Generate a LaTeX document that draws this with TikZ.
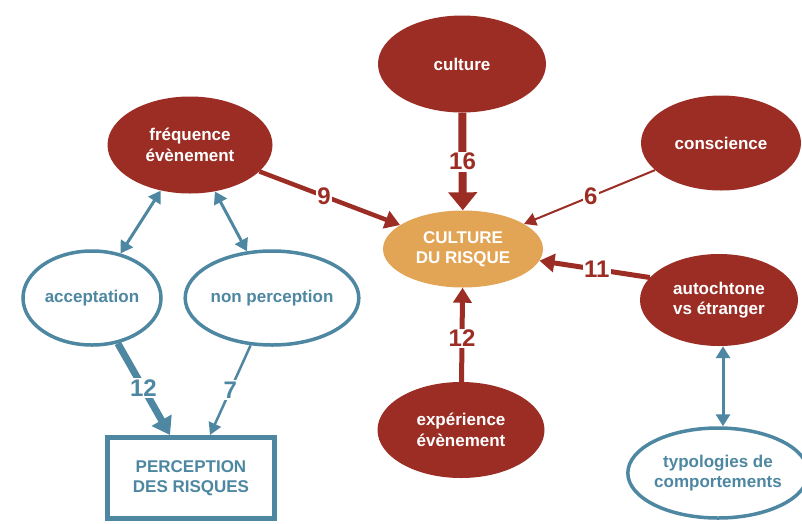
\documentclass[tikz,border=0pt]{standalone}
\usepackage{fontspec}
\setmainfont{Liberation Sans}
\usetikzlibrary{shapes.geometric,arrows.meta}
\definecolor{dred}{HTML}{9C2D24}
\definecolor{ora}{HTML}{E2A556}
\definecolor{blu}{HTML}{4E87A1}
\begin{document}
\begin{tikzpicture}[x=1pt,y=-1pt,
  font=\fontsize{17}{20.5}\selectfont\bfseries,
  redn/.style={ellipse, fill=dred, text=white, inner sep=0pt, align=center},
  bluen/.style={ellipse, draw=blu, line width=3.5pt, fill=white, text=blu, inner sep=0pt, align=center},
  num/.style={fill=white, inner sep=1.5pt, font=\fontsize{24}{24}\selectfont\bfseries},
  rnum/.style={num, text=dred},
  bnum/.style={num, text=blu},
  rline/.style={draw=dred},
  bline/.style={draw=blu},
  dbl/.style={bline, line width=3pt, {Triangle[length=12pt,width=14pt]}-{Triangle[length=12pt,width=14pt]}}
]
\useasboundingbox (0,0) rectangle (802,523);
\fill[white] (0,0) rectangle (802,523);

% nodes
\node[redn, minimum width=168pt, minimum height=97pt] (cult) at (462,64) {culture};
\node[redn, minimum width=165pt, minimum height=97pt] (freq) at (190,145) {fréquence\\évènement};
\node[redn, minimum width=160pt, minimum height=95pt] (consc) at (721,143) {conscience};
\node[ellipse, fill=ora, text=white, inner sep=0pt, align=center, minimum width=160pt, minimum height=77pt] (cdr) at (463,249) {CULTURE\\DU RISQUE};
\node[redn, minimum width=158pt, minimum height=92pt] (auto) at (719,300) {autochtone\\vs étranger};
\node[redn, minimum width=167pt, minimum height=96pt] (exp) at (461,430) {expérience\\évènement};
\node[bluen, minimum width=138pt, minimum height=94pt] (acc) at (92,298) {acceptation};
\node[bluen, minimum width=156pt, minimum height=94pt] (nonp) at (272,298) {non perception};
\node[bluen, minimum width=162pt, minimum height=90pt] (typo) at (718,473) {typologies de\\comportements};
\node[draw=blu, line width=5pt, fill=white, text=blu, align=center, inner sep=0pt, minimum width=167pt, minimum height=81pt] (perc) at (191,478) {PERCEPTION\\DES RISQUES};

% red connectors
\draw[rline, line width=8pt, -{Triangle[length=18pt,width=28pt]}] (cult) -- node[rnum]{16} (cdr);
\draw[rline, line width=4.5pt, -{Triangle[length=15pt,width=18pt]}] (freq) -- node[rnum, pos=0.46]{9} (cdr);
\draw[rline, line width=2pt, -{Triangle[length=12pt,width=13pt]}] (consc) -- node[rnum, pos=0.49]{6} (cdr);
\draw[rline, line width=5pt, -{Triangle[length=15pt,width=18pt]}] (auto.162) -- node[rnum, pos=0.48]{11} (cdr);
\draw[rline, line width=5pt, -{Triangle[length=15pt,width=18pt]}] (exp) -- node[rnum, pos=0.46]{12} (cdr);

% blue connectors
\draw[dbl] (freq) -- (acc);
\draw[dbl] (freq) -- (nonp);
\draw[dbl] ([xshift=4pt]auto.south) -- ([xshift=5pt]typo.north);
\draw[bline, line width=7pt, -{Triangle[length=17pt,width=22pt]}] (acc) -- node[bnum, pos=0.49]{12} ([xshift=-21pt]perc.north);
\draw[bline, line width=2.5pt, -{Triangle[length=12pt,width=13pt]}] (nonp) -- node[bnum, pos=0.5]{7} ([xshift=19pt]perc.north);
\end{tikzpicture}
\end{document}
